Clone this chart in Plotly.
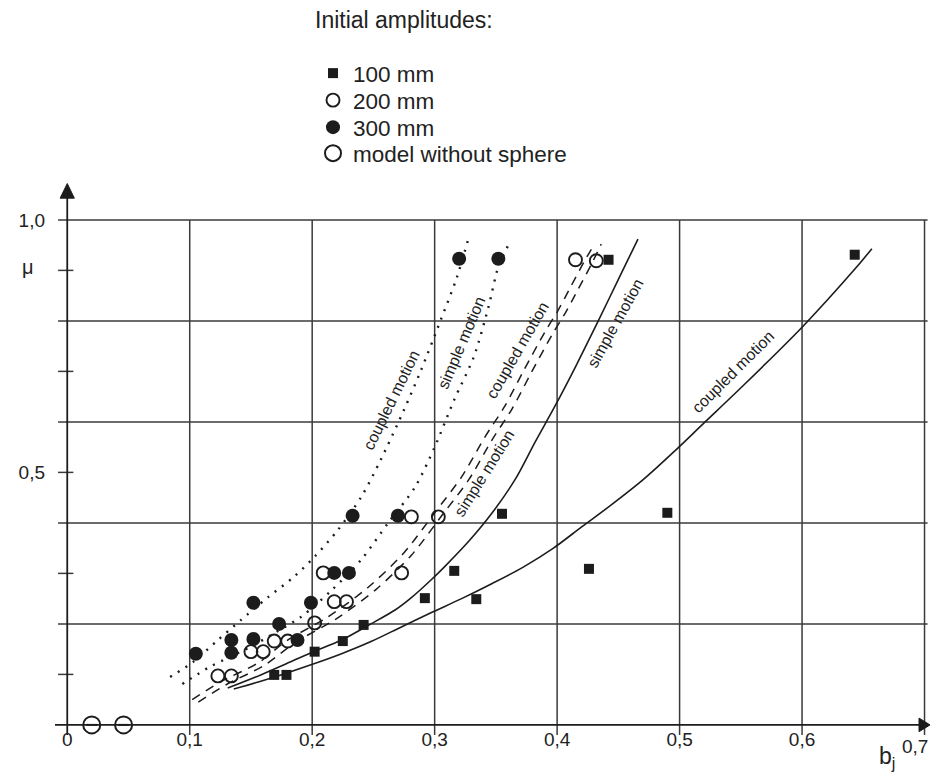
import plotly.graph_objects as go

# ---------------- data ----------------
# measured points, initial amplitude 100 mm (filled squares)
sq_x = [0.169, 0.179, 0.202, 0.225, 0.242, 0.292, 0.316, 0.334, 0.355, 0.426, 0.490, 0.442, 0.643]
sq_y = [0.099, 0.099, 0.145, 0.166, 0.198, 0.251, 0.305, 0.249, 0.418, 0.309, 0.420, 0.921, 0.931]

# initial amplitude 200 mm (open circles)
oc_x = [0.123, 0.134, 0.150, 0.160, 0.169, 0.180, 0.202, 0.218, 0.228, 0.209, 0.273, 0.281, 0.303, 0.415, 0.432]
oc_y = [0.097, 0.097, 0.145, 0.145, 0.166, 0.166, 0.202, 0.244, 0.244, 0.301, 0.301, 0.412, 0.412, 0.921, 0.919]

# initial amplitude 300 mm (filled circles)
fc_x = [0.105, 0.134, 0.134, 0.152, 0.152, 0.173, 0.188, 0.199, 0.218, 0.230, 0.233, 0.270, 0.320, 0.352]
fc_y = [0.141, 0.168, 0.143, 0.170, 0.242, 0.200, 0.168, 0.242, 0.301, 0.301, 0.414, 0.414, 0.923, 0.923]

# model without sphere
ms_x = [0.020, 0.046]
ms_y = [0.0, 0.0]

# theoretical curves
dot_coupled_x = [0.084, 0.103, 0.123, 0.142, 0.164, 0.185, 0.202, 0.221, 0.240, 0.256, 0.275, 0.289, 0.305, 0.318, 0.327]
dot_coupled_y = [0.095, 0.125, 0.168, 0.208, 0.253, 0.293, 0.333, 0.386, 0.451, 0.525, 0.624, 0.703, 0.802, 0.885, 0.958]

dot_simple_x = [0.094, 0.115, 0.128, 0.150, 0.170, 0.191, 0.216, 0.240, 0.262, 0.284, 0.300, 0.316, 0.332, 0.344, 0.352, 0.361]
dot_simple_y = [0.081, 0.113, 0.129, 0.155, 0.183, 0.214, 0.267, 0.327, 0.400, 0.471, 0.550, 0.644, 0.729, 0.828, 0.907, 0.954]

dash_coupled_x = [0.102, 0.125, 0.156, 0.180, 0.213, 0.246, 0.275, 0.300, 0.322, 0.341, 0.357, 0.373, 0.390, 0.401, 0.411, 0.422, 0.430]
dash_coupled_y = [0.050, 0.085, 0.123, 0.168, 0.214, 0.273, 0.341, 0.420, 0.491, 0.570, 0.630, 0.703, 0.778, 0.822, 0.867, 0.917, 0.950]

dash_simple_x = [0.107, 0.130, 0.161, 0.186, 0.219, 0.252, 0.281, 0.306, 0.328, 0.347, 0.363, 0.379, 0.396, 0.407, 0.417, 0.428, 0.436]
dash_simple_y = [0.045, 0.080, 0.118, 0.163, 0.209, 0.268, 0.336, 0.415, 0.486, 0.565, 0.625, 0.698, 0.773, 0.817, 0.862, 0.912, 0.952]

solid_simple_x = [0.131, 0.158, 0.177, 0.199, 0.224, 0.248, 0.268, 0.281, 0.297, 0.308, 0.328, 0.347, 0.366, 0.382, 0.398, 0.415, 0.434, 0.451, 0.466]
solid_simple_y = [0.073, 0.099, 0.119, 0.143, 0.168, 0.200, 0.228, 0.252, 0.287, 0.313, 0.364, 0.420, 0.487, 0.560, 0.630, 0.709, 0.802, 0.887, 0.962]

solid_coupled_x = [0.136, 0.156, 0.177, 0.199, 0.224, 0.248, 0.272, 0.297, 0.322, 0.347, 0.372, 0.397, 0.420, 0.445, 0.470, 0.495, 0.520, 0.552, 0.601, 0.644, 0.657]
solid_coupled_y = [0.071, 0.085, 0.101, 0.119, 0.141, 0.165, 0.193, 0.222, 0.250, 0.280, 0.312, 0.350, 0.392, 0.437, 0.485, 0.540, 0.598, 0.672, 0.790, 0.905, 0.943]

# curve labels: text, x, y, angle
label_text = ["coupled motion", "simple motion", "coupled motion", "simple motion", "simple motion", "coupled motion"]
label_x = [0.265, 0.322, 0.368, 0.341, 0.448, 0.544]
label_y = [0.644, 0.757, 0.743, 0.499, 0.796, 0.699]
label_angle = [-64, -67, -60, -58, -61, -45]

# axes
x_ticks = [0, 0.1, 0.2, 0.3, 0.4, 0.5, 0.6]
x_tick_text = ["0", "0,1", "0,2", "0,3", "0,4", "0,5", "0,6"]
x_last_tick, x_last_text = 0.7, "0,7"
y_ticks = [0.5, 1.0]
y_tick_text = ["0,5", "1,0"]
x_grid = [0.1, 0.2, 0.3, 0.4, 0.5, 0.6, 0.7]
y_grid = [0.2, 0.4, 0.6, 0.8, 1.0]
y_minor = [0.1, 0.3, 0.5, 0.7, 0.9]

# ---------------- figure ----------------
INK = "#1c1c1c"
TXT = "#222222"
GRID = "#3a3a3a"
FONT = "Liberation Sans, Arial, sans-serif"

# the page body keeps its default 8 px margin: size the figure so nothing scrolls
PAGE_OFF = 8
W, H = 939 - PAGE_OFF, 782 - 2 * PAGE_OFF
PLOT_L, PLOT_T, PLOT_W, PLOT_H = 55, 182, 883, 553   # in window pixels


def px_to_paper_x(px):
    return (px - PLOT_L) / PLOT_W


def px_to_paper_y(py):
    return (PLOT_T + PLOT_H - py) / PLOT_H


fig = go.Figure()

curve_styles = [
    (dot_coupled_x, dot_coupled_y, dict(dash="2px,7px", width=2.4)),
    (dot_simple_x, dot_simple_y, dict(dash="2px,7px", width=2.4)),
    (dash_coupled_x, dash_coupled_y, dict(dash="9px,7px", width=1.5)),
    (dash_simple_x, dash_simple_y, dict(dash="9px,7px", width=1.5)),
    (solid_simple_x, solid_simple_y, dict(dash="solid", width=1.6)),
    (solid_coupled_x, solid_coupled_y, dict(dash="solid", width=1.6)),
]
for cx, cy, st in curve_styles:
    fig.add_trace(go.Scatter(
        x=cx, y=cy, mode="lines", showlegend=False, hoverinfo="skip",
        line=dict(color=INK, shape="spline", smoothing=0.8, **st)))

fig.add_trace(go.Scatter(
    x=sq_x, y=sq_y, mode="markers", name="100 mm", cliponaxis=False, legend="legend",
    marker=dict(symbol="square", size=10, color=INK)))
fig.add_trace(go.Scatter(
    x=oc_x, y=oc_y, mode="markers", name="200 mm", cliponaxis=False, legend="legend2",
    marker=dict(symbol="circle-open", size=13, color=INK, line=dict(width=1.9, color=INK))))
fig.add_trace(go.Scatter(
    x=fc_x, y=fc_y, mode="markers", name="300 mm", cliponaxis=False, legend="legend3",
    marker=dict(symbol="circle", size=14, color=INK)))
fig.add_trace(go.Scatter(
    x=ms_x, y=ms_y, mode="markers", name="model without sphere", cliponaxis=False, legend="legend4",
    marker=dict(symbol="circle-open", size=17, color=INK, line=dict(width=2, color=INK))))
fig.add_trace(go.Scatter(
    x=ms_x, y=ms_y, mode="markers", showlegend=False, hoverinfo="skip", cliponaxis=False,
    marker=dict(symbol="line-ew-open", size=8, color=INK, line=dict(width=2, color=INK))))

shapes = []
for gx in x_grid:
    shapes.append(dict(type="line", xref="x", yref="y", x0=gx, x1=gx, y0=-0.02, y1=1.0,
                       line=dict(color=GRID, width=1.5), layer="below"))
for gy in y_grid:
    shapes.append(dict(type="line", xref="x", yref="y", x0=-0.0075, x1=0.7025, y0=gy, y1=gy,
                       line=dict(color=GRID, width=1.5), layer="below"))
for my in y_minor:
    shapes.append(dict(type="line", xref="x", yref="y", x0=-0.0075, x1=0.005, y0=my, y1=my,
                       line=dict(color=GRID, width=1.5), layer="below"))
# axis lines with arrowheads
shapes.append(dict(type="line", xref="x", yref="y", x0=0, x1=0, y0=-0.02, y1=1.045,
                   line=dict(color=INK, width=1.8)))
shapes.append(dict(type="line", xref="x", yref="y", x0=-0.01, x1=0.698, y0=0, y1=0,
                   line=dict(color=INK, width=1.8)))
shapes.append(dict(type="path", xref="x", yref="y",
                   path="M -0.0058,1.043 L 0,1.072 L 0.0058,1.043 Z",
                   fillcolor=INK, line=dict(color=INK, width=1)))
shapes.append(dict(type="path", xref="x", yref="y",
                   path="M 0.6955,-0.0135 L 0.7045,0 L 0.6955,0.0135 Z",
                   fillcolor=INK, line=dict(color=INK, width=1)))

annotations = []
# curve labels
for t, lx, ly, ang in zip(label_text, label_x, label_y, label_angle):
    annotations.append(dict(x=lx, y=ly, xref="x", yref="y", text=t, textangle=ang,
                            showarrow=False, font=dict(size=16, family=FONT, color=TXT)))
# last x tick label (kept inside the visible page width)
annotations.append(dict(x=x_last_tick + 0.0045, y=px_to_paper_y(746), xref="x", yref="paper",
                        text=x_last_text, showarrow=False, xanchor="right", yanchor="middle",
                        font=dict(size=19, family=FONT, color=TXT)))
# axis titles
annotations.append(dict(x=px_to_paper_x(28), y=0.907, xref="paper", yref="y", text="μ", showarrow=False,
                        xanchor="center", yanchor="middle",
                        font=dict(size=20, family=FONT, color=TXT)))
annotations.append(dict(x=0.669, y=px_to_paper_y(757), xref="x", yref="paper", text="b<sub>j</sub>",
                        xanchor="center", yanchor="middle",
                        showarrow=False, font=dict(size=23, family=FONT, color=TXT)))
# legend heading
annotations.append(dict(x=px_to_paper_x(313), y=px_to_paper_y(20), xref="paper", yref="paper",
                        text="Initial amplitudes:", showarrow=False,
                        xanchor="left", yanchor="middle",
                        font=dict(size=23, family=FONT, color=TXT)))


def legend_row(center_px):
    return dict(xref="paper", yref="paper", x=px_to_paper_x(313), y=px_to_paper_y(center_px - 21),
                xanchor="left", yanchor="top",
                font=dict(size=22.5, family=FONT, color=TXT),
                bgcolor="rgba(0,0,0,0)", itemwidth=30)


fig.update_layout(
    width=W, height=H,
    margin=dict(l=PLOT_L - PAGE_OFF, r=W - (PLOT_L - PAGE_OFF) - PLOT_W,
                t=PLOT_T - PAGE_OFF, b=H - (PLOT_T - PAGE_OFF) - PLOT_H),
    paper_bgcolor="white", plot_bgcolor="white",
    font=dict(family=FONT, color=TXT, size=19),
    xaxis=dict(range=[-0.01, 0.711], tickvals=x_ticks, ticktext=x_tick_text,
               showgrid=False, zeroline=False, showline=False, ticks="",
               ticklabelstandoff=-9,
               tickfont=dict(size=19, family=FONT, color=TXT), fixedrange=True),
    yaxis=dict(range=[-0.02, 1.075], tickvals=y_ticks, ticktext=y_tick_text,
               showgrid=False, zeroline=False, showline=False, ticks="",
               ticklabelstandoff=9,
               tickfont=dict(size=19, family=FONT, color=TXT), fixedrange=True),
    shapes=shapes,
    annotations=annotations,
    showlegend=True,
    legend=legend_row(73),
    legend2=legend_row(100),
    legend3=legend_row(127),
    legend4=legend_row(153),
)

fig.write_html("out.html")
